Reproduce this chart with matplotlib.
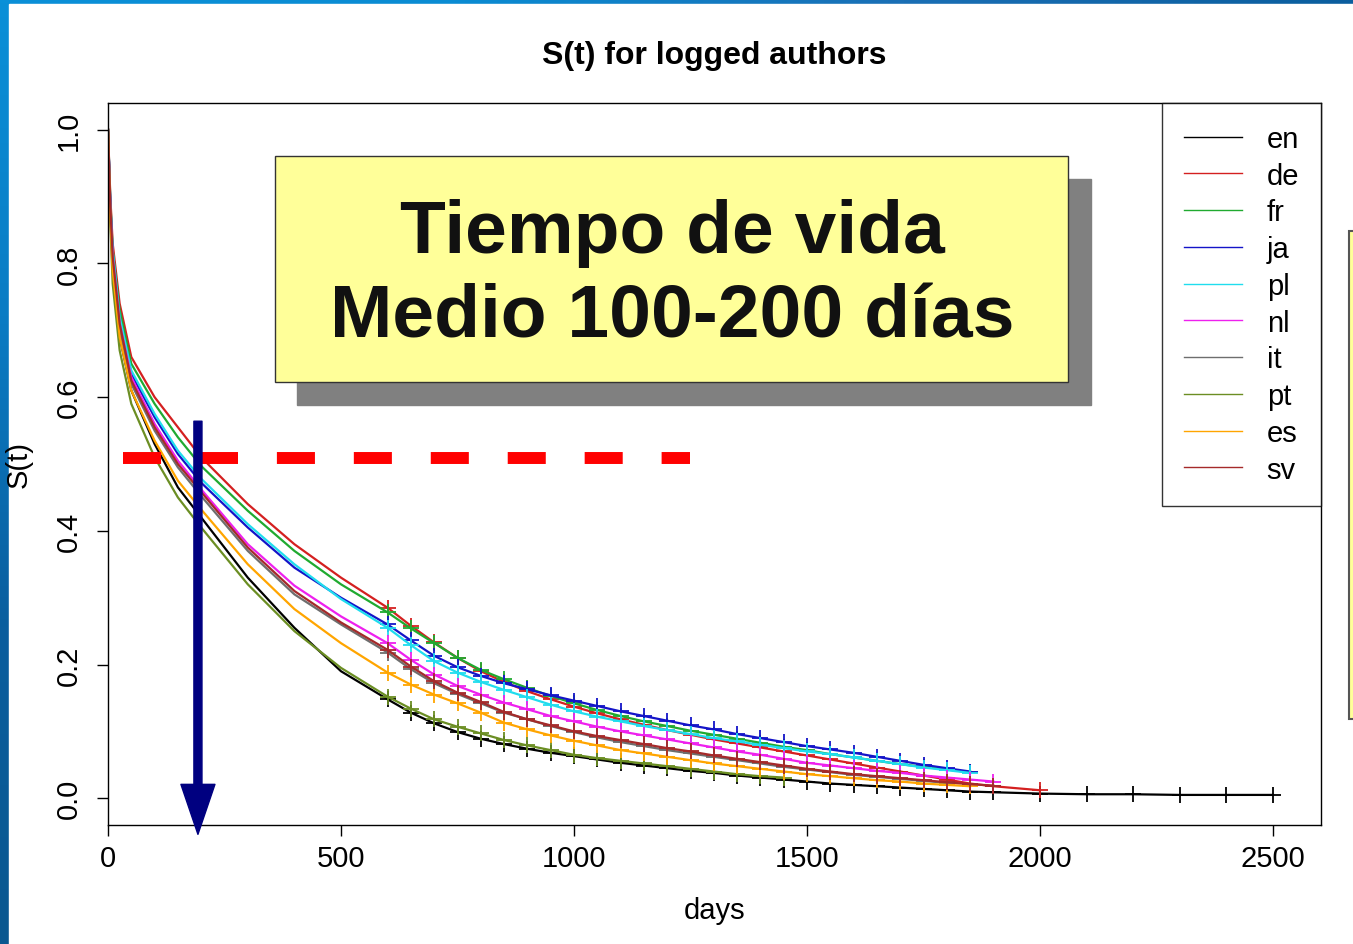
import matplotlib
matplotlib.use("Agg")
import matplotlib.pyplot as plt
import numpy as np
from matplotlib.lines import Line2D
from matplotlib.patches import Rectangle

plt.rcParams["font.family"] = ["Liberation Sans", "DejaVu Sans"]
plt.rcParams["lines.scale_dashes"] = False

nan = np.nan

DAYS = [0, 5, 10, 25, 50, 100, 150, 200, 300, 400, 500,
        600, 650, 700, 750, 800, 850, 900, 950, 1000, 1050,
        1100, 1150, 1200, 1250, 1300, 1350, 1400, 1450, 1500, 1550,
        1600, 1650, 1700, 1750, 1800, 1850, 1900, 2000, 2100, 2200,
        2300, 2400, 2500]

LANGS = ["en", "de", "fr", "ja", "pl", "nl", "it", "pt", "es", "sv"]

S_EN = [1.0, 0.88, 0.80, 0.69, 0.61, 0.53, 0.465, 0.42, 0.33, 0.255, 0.19,
        0.148, 0.128, 0.112, 0.099, 0.089, 0.081, 0.074, 0.068, 0.063, 0.058,
        0.053, 0.049, 0.045, 0.041, 0.038, 0.034, 0.031, 0.028, 0.025, 0.022,
        0.020, 0.018, 0.016, 0.014, 0.012, 0.010, 0.009, 0.007, 0.006, 0.006,
        0.005, 0.005, 0.005]
S_DE = [1.0, 0.90, 0.83, 0.74, 0.66, 0.60, 0.555, 0.51, 0.44, 0.38, 0.33,
        0.285, 0.258, 0.233, 0.21, 0.19, 0.174, 0.16, 0.148, 0.137, 0.127,
        0.118, 0.11, 0.102, 0.095, 0.088, 0.082, 0.076, 0.07, 0.064, 0.058,
        0.052, 0.046, 0.04, 0.034, 0.028, 0.022, 0.018, 0.012]
S_FR = [1.0, 0.895, 0.82, 0.73, 0.65, 0.59, 0.54, 0.497, 0.43, 0.37, 0.32,
        0.278, 0.254, 0.232, 0.21, 0.192, 0.178, 0.165, 0.153, 0.142, 0.132,
        0.123, 0.115, 0.108, 0.101, 0.095, 0.089, 0.083, 0.077, 0.072, 0.066,
        0.061, 0.056, 0.051, 0.047, 0.043, 0.039]
S_JA = [1.0, 0.89, 0.815, 0.715, 0.635, 0.57, 0.515, 0.472, 0.405, 0.345, 0.30,
        0.26, 0.236, 0.213, 0.196, 0.183, 0.172, 0.163, 0.154, 0.146, 0.138,
        0.13, 0.123, 0.116, 0.109, 0.103, 0.096, 0.09, 0.084, 0.078, 0.073,
        0.068, 0.062, 0.056, 0.05, 0.045, 0.04]
S_PL = [1.0, 0.89, 0.82, 0.72, 0.64, 0.575, 0.52, 0.478, 0.41, 0.35, 0.298,
        0.255, 0.229, 0.205, 0.188, 0.174, 0.162, 0.151, 0.14, 0.13, 0.122,
        0.115, 0.108, 0.102, 0.096, 0.09, 0.085, 0.08, 0.075, 0.07, 0.066,
        0.061, 0.056, 0.051, 0.046, 0.042, 0.038]
S_NL = [1.0, 0.885, 0.81, 0.71, 0.63, 0.56, 0.505, 0.462, 0.38, 0.318, 0.272,
        0.232, 0.207, 0.185, 0.168, 0.155, 0.143, 0.133, 0.123, 0.115, 0.107,
        0.1, 0.094, 0.088, 0.082, 0.076, 0.07, 0.065, 0.059, 0.053, 0.049,
        0.045, 0.041, 0.038, 0.034, 0.031, 0.028, 0.025]
S_IT = [1.0, 0.88, 0.80, 0.70, 0.62, 0.55, 0.495, 0.452, 0.37, 0.305, 0.26,
        0.218, 0.193, 0.172, 0.156, 0.142, 0.128, 0.118, 0.108, 0.099, 0.091,
        0.084, 0.078, 0.072, 0.067, 0.062, 0.057, 0.052, 0.047, 0.043, 0.039,
        0.035, 0.032, 0.029, 0.026, 0.023]
S_PT = [1.0, 0.86, 0.77, 0.67, 0.59, 0.51, 0.45, 0.405, 0.32, 0.25, 0.195,
        0.152, 0.134, 0.118, 0.107, 0.097, 0.087, 0.079, 0.072, 0.065, 0.06,
        0.056, 0.052, 0.048, 0.044, 0.04, 0.036, 0.033, 0.031]
S_ES = [1.0, 0.87, 0.79, 0.69, 0.61, 0.535, 0.475, 0.432, 0.35, 0.283, 0.232,
        0.188, 0.17, 0.155, 0.142, 0.128, 0.113, 0.103, 0.094, 0.086, 0.079,
        0.072, 0.067, 0.062, 0.057, 0.052, 0.048, 0.044, 0.04, 0.036, 0.033,
        0.03, 0.027, 0.025, 0.022, 0.02, 0.018]
S_SV = [1.0, 0.885, 0.81, 0.71, 0.625, 0.555, 0.50, 0.458, 0.375, 0.31, 0.263,
        0.222, 0.197, 0.175, 0.158, 0.144, 0.129, 0.118, 0.109, 0.1, 0.093,
        0.087, 0.081, 0.075, 0.07, 0.064, 0.059, 0.054, 0.049, 0.044, 0.04,
        0.036, 0.033, 0.03, 0.027, 0.024, 0.021, 0.019]

SERIES = [S_EN, S_DE, S_FR, S_JA, S_PL, S_NL, S_IT, S_PT, S_ES, S_SV]
COLORS = ["black", "#D42020", "#20AA30", "#1414C8", "#20DDEE",
          "#EE20EE", "#6E6E6E", "#6B8E23", "#FFA500", "#A52A2A"]

X_TICKS = [0, 500, 1000, 1500, 2000, 2500]
Y_TICKS = [0.0, 0.2, 0.4, 0.6, 0.8, 1.0]

MEDIAN_LEVEL = 0.509
MEDIAN_SPAN = (32, 1249)
ARROW_DAY = 193
ARROW_RANGE = (0.564, -0.054)


def main():
    W, H = 1353, 945
    fig = plt.figure(figsize=(W / 100, H / 100), dpi=100)

    # slide background: blue strips at left and top, white content area
    bg = fig.add_axes([0, 0, 1, 1], zorder=-5)
    bg.set_xlim(0, W)
    bg.set_ylim(H, 0)
    bg.axis("off")
    top = np.linspace(0, 1, 256).reshape(1, -1)
    bg.imshow(top, cmap=matplotlib.colors.LinearSegmentedColormap.from_list(
        "t", ["#0A90D8", "#0A8CD3", "#1A6FB5", "#0B5E9E"]),
        extent=(0, W, 6, 0), aspect="auto")
    left = np.linspace(0, 1, 256).reshape(-1, 1)
    bg.imshow(left, cmap=matplotlib.colors.LinearSegmentedColormap.from_list(
        "l", ["#0A90D8", "#0A7CC4", "#0B5E9E", "#0A5890"]),
        extent=(0, 9, H, 0), aspect="auto")
    bg.add_patch(Rectangle((9, 5), W - 9, H - 5, color="white"))

    ax = fig.add_axes([108 / W, 1 - 826 / H, 1213 / W, 722 / H])

    for vals, color, lang in zip(SERIES, COLORS, LANGS):
        y = np.full(len(DAYS), nan)
        y[:len(vals)] = vals
        ax.plot(DAYS, y, color=color, lw=1.6, marker="+", ms=11, mew=1.3,
                markevery=slice(11, None), label=lang)

    ax.set_xlim(0, 2603)
    ax.set_ylim(-0.04, 1.04)
    ax.set_xticks(X_TICKS)
    ax.set_xticklabels([str(v) for v in X_TICKS])
    ax.set_yticks(Y_TICKS)
    ax.set_yticklabels([f"{v:.1f}" for v in Y_TICKS], rotation=90,
                       va="center")
    ax.tick_params(length=8, width=1, labelsize=21, direction="out")
    ax.tick_params(axis="y", pad=10)
    ax.tick_params(axis="x", pad=6)
    for s in ax.spines.values():
        s.set_linewidth(1)

    ax.set_xlabel("days", fontsize=21)
    ax.xaxis.set_label_coords(0.5, -0.098)
    ax.set_ylabel("S(t)", fontsize=21)
    ax.yaxis.set_label_coords(-0.062, 0.5)

    fig.text(714 / W, 1 - 56 / H, "S(t) for logged authors", ha="center",
             va="center", fontsize=23, fontweight="bold")

    handles = [Line2D([], [], color=c, lw=1) for c in COLORS]
    leg = ax.legend(handles, LANGS, loc="upper right", bbox_to_anchor=(1, 1),
                    borderaxespad=0, fontsize=21, frameon=True, fancybox=False,
                    handlelength=2.0, handletextpad=0.85, labelspacing=0.3,
                    borderpad=0.75)
    leg.get_frame().set_edgecolor("black")
    leg.get_frame().set_linewidth(1)

    # overlay: median level and arrow
    ax.plot(MEDIAN_SPAN, [MEDIAN_LEVEL, MEDIAN_LEVEL], color="red", lw=8.6,
            dashes=(27.4, 28), solid_capstyle="butt", dash_capstyle="butt",
            zorder=5)
    ax.annotate("", xy=(ARROW_DAY, ARROW_RANGE[1]),
                xytext=(ARROW_DAY, ARROW_RANGE[0]),
                arrowprops=dict(arrowstyle="simple,head_length=3.6,"
                                "head_width=2.45,tail_width=0.58",
                                mutation_scale=10, color="#000080",
                                shrinkA=0, shrinkB=0),
                annotation_clip=False, zorder=6)

    # slide callout boxes
    ov = fig.add_axes([0, 0, 1, 1], zorder=10)
    ov.set_xlim(0, W)
    ov.set_ylim(H, 0)
    ov.axis("off")
    ov.add_patch(Rectangle((297, 180), 794, 226, color="#808080"))
    ov.add_patch(Rectangle((275, 157), 793, 226, facecolor="#FFFF99",
                           edgecolor="#333333", lw=1))
    ov.text(672, 234, "Tiempo de vida", ha="center", va="center",
            fontsize=54, fontweight="bold", color="#111111")
    ov.text(672, 318, "Medio 100-200 días", ha="center", va="center",
            fontsize=54, fontweight="bold", color="#111111")
    ov.add_patch(Rectangle((1349, 232), 20, 488, facecolor="#FFFF99",
                           edgecolor="#555555", lw=1.5))

    fig.savefig("out.png", dpi=100)
    plt.close(fig)


if __name__ == "__main__":
    main()
